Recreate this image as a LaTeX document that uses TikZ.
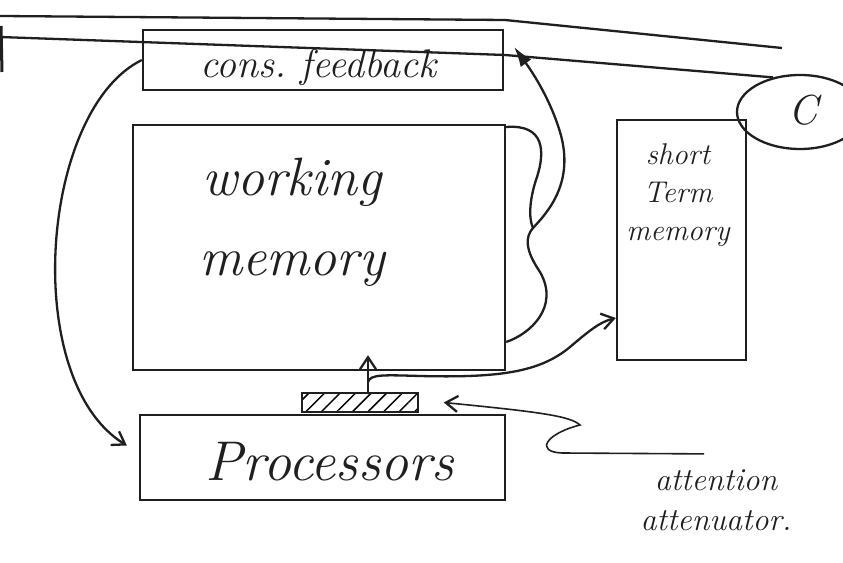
\documentclass[tikz,border=0pt]{standalone}
\usetikzlibrary{arrows.meta,shapes.geometric,patterns.meta,calc}
\begin{document}
\begin{tikzpicture}[x=1pt,y=1pt,
  ink/.style={line width=2.3pt, draw=black!88},
  box/.style={ink, rectangle, inner sep=0pt},
  hand/.style={font=\itshape, text=black!88, align=center},
  barb/.style={-{Straight Barb[length=12pt,width=16pt,line width=2.3pt]}},
  bigtip/.style={-{Latex[length=20pt,width=13pt]}}
]
\useasboundingbox (0,0) rectangle (843,562);
\fill[white] (0,0) rectangle (843,562);

% boxes
\node[box, minimum width=360, minimum height=60] (cons) at (323,502) {};
\node[hand, font=\itshape\fontsize{40}{42}\selectfont] (constext) at (318,494) {cons.\ feedback};
\node[box, minimum width=372, minimum height=245] (wm) at (319,314.5) {};
\node[hand, font=\itshape\fontsize{54}{80}\selectfont] (wmtext) at (292,340) {working\\memory};
\node[box, minimum width=365, minimum height=85] (proc) at (322.5,104.5) {};
\node[hand, font=\itshape\fontsize{56}{58}\selectfont] (proctext) at (330,100) {Processors};
\node[box, minimum width=116, minimum height=19,
      pattern={Lines[angle=45,distance=11pt,line width=1.5pt]}] (bar) at (360,159.5) {};
\node[box, minimum width=129, minimum height=240] (stm) at (681.5,322) {};
\node[hand, font=\itshape\fontsize{30}{38}\selectfont] (stmtext) at (678,367) {short\\Term\\memory};
\node[ink, draw, ellipse, minimum width=126, minimum height=74, inner sep=0pt] (C) at (800,450) {};
\node[hand, font=\itshape\fontsize{42}{44}\selectfont] (Ctext) at (803,452) {C};
\node[hand, font=\itshape\fontsize{32}{40}\selectfont] (att) at (716,62) {attention\\attenuator.};

% long lines at the top
\coordinate (l1a) at (0,546);
\coordinate (l1b) at (782,514);
\coordinate (l2a) at (0,525);
\coordinate (e1) at (1,536);
\coordinate (e2) at (2,490);
\draw[ink] (l1a) -- (505,542) -- (l1b);
\draw[ink] (l2a) -- (505,507) -- (C.128);
\draw[ink, line width=3pt] (e1) -- (e2);

% left arrow: cons. feedback -> processors
\draw[ink, barb] (cons.west) .. controls (40,452) and (20,182) .. ([shift={(-12,12)}]proc.west);

% up arrow from attenuator bar into working memory
\coordinate (split) at (368,180);
\draw[ink, barb] ([xshift=8]bar.north) -- ([xshift=8,yshift=16]bar.north |- wm.south);

% to short term memory
\draw[ink, barb] (split) .. controls (370,188) and (385,187) .. (420,186)
   .. controls (500,184) and (540,190) .. (570,215) .. controls (590,232) and (600,240) .. (stm.west |- 0,244);

% working memory -> cons. feedback (wiggly)
\coordinate (merge) at (533,334);
\draw[ink, bigtip] (wm.east |- 0,220) .. controls (530,228) and (560,255) .. (540,290)
   .. controls (525,312) and (525,325) .. (merge)
   .. controls (548,350) and (575,380) .. (560,430)
   .. controls (548,470) and (525,500) .. ([xshift=10]cons.east |- 0,515);
\draw[ink] (wm.north east |- 0,435) .. controls (545,438) and (545,410) .. (537,385)
   .. controls (530,365) and (528,345) .. (merge);

% attention attenuator pointer
\draw[ink, line width=1.6pt, barb] ([shift={(-12,12)}]att.north) -- (562,109)
   .. controls (535,110) and (545,128) .. (580,137)
   .. controls (570,146) and (540,150) .. ([xshift=25]bar.east);
\end{tikzpicture}
\end{document}
